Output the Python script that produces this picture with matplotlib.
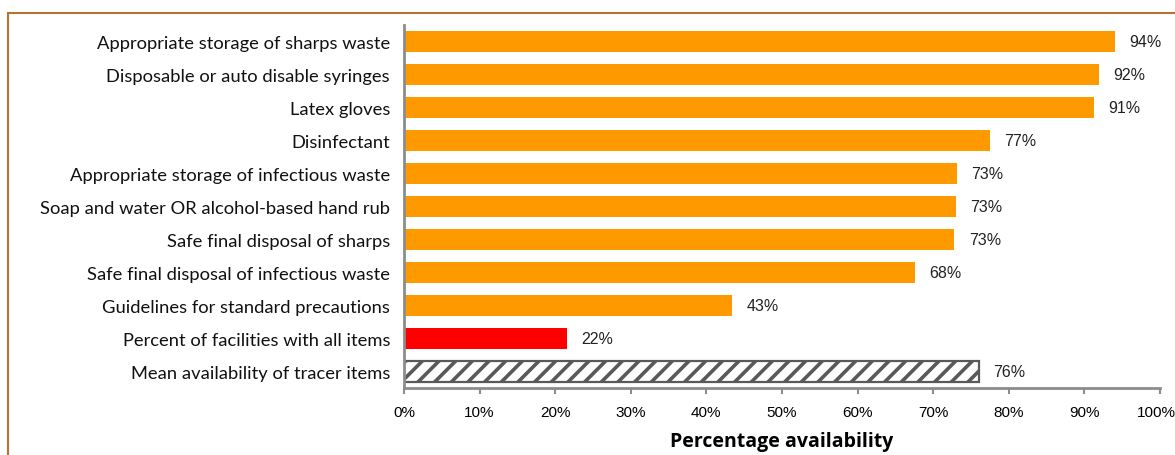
import matplotlib
matplotlib.use("Agg")
import matplotlib.pyplot as plt
from matplotlib.patches import Rectangle
from matplotlib.ticker import FuncFormatter
from matplotlib.transforms import ScaledTranslation

# standard precaution items, top to bottom
items = [
    "Appropriate storage of sharps waste",
    "Disposable or auto disable syringes",
    "Latex gloves",
    "Disinfectant",
    "Appropriate storage of infectious waste",
    "Soap and water OR alcohol-based hand rub",
    "Safe final disposal of sharps",
    "Safe final disposal of infectious waste",
    "Guidelines for standard precautions",
    "Percent of facilities with all items",
    "Mean availability of tracer items",
]
availability = [94.0, 91.9, 91.3, 77.5, 73.1, 73.0, 72.8, 67.6, 43.4, 21.6, 76.0]
value_labels = ["94%", "92%", "91%", "77%", "73%", "73%", "73%", "68%", "43%", "22%", "76%"]
x_ticks = [0, 10, 20, 30, 40, 50, 60, 70, 80, 90, 100]

label_font = ["Lato", "DejaVu Sans"]
narrow_font = ["Liberation Sans Narrow", "Liberation Sans", "DejaVu Sans"]

plt.rcParams["hatch.linewidth"] = 2.6
plt.rcParams["hatch.color"] = "#595959"

fig = plt.figure(figsize=(11.75, 4.56), dpi=100)
ax = fig.add_axes([0.3438, 0.147, 0.9872 - 0.3438, 0.796])

colors = ["#FF9900"] * 9 + ["#FF0000"]
pos = list(range(len(items)))

ax.barh(pos[:10], availability[:10], height=0.64, color=colors, edgecolor="none")
ax.barh(pos[10], availability[10], height=0.64, color="white",
        edgecolor="#595959", linewidth=1.6, hatch="//")

for y, v, lab in zip(pos, availability, value_labels):
    ax.text(v + 1.9, y, lab, va="center", ha="left", fontsize=11.5,
            family=narrow_font, color="#222222")

ax.set_ylim(len(items) - 0.5, -0.5)
ax.set_xlim(0, 100)
ax.set_yticks(pos)
ax.set_yticklabels(items, family=label_font, fontsize=13.2, color="#111111")
ax.set_xticks(x_ticks)
ax.xaxis.set_major_formatter(FuncFormatter(lambda v, p: f"{v:.0f}%"))
ax.tick_params(axis="y", length=0, pad=10)
ax.tick_params(axis="x", length=4, width=1.5, color="#8c8c8c", pad=8)
ticklabels = ax.get_xticklabels()
for t in ticklabels:
    t.set_family(narrow_font)
    t.set_fontsize(11)
# nudge the last tick label so it stays inside the figure
ticklabels[-1].set_transform(ticklabels[-1].get_transform()
                             + ScaledTranslation(-4 / 100, 0, fig.dpi_scale_trans))

for side in ("top", "right"):
    ax.spines[side].set_visible(False)
for side in ("left", "bottom"):
    ax.spines[side].set_color("#8c8c8c")
    ax.spines[side].set_linewidth(2)

ax.set_xlabel("Percentage availability", fontsize=14, fontweight="bold",
              family=["Open Sans", "DejaVu Sans"], labelpad=9)

# outer frame running off the bottom and right of the figure
fig.patches.append(Rectangle((8 / 1175, -0.2), 1.2, 1.2 - 14 / 456,
                             transform=fig.transFigure, fill=False,
                             edgecolor="#b87333", linewidth=1.5))

fig.savefig("out.png", dpi=100)
